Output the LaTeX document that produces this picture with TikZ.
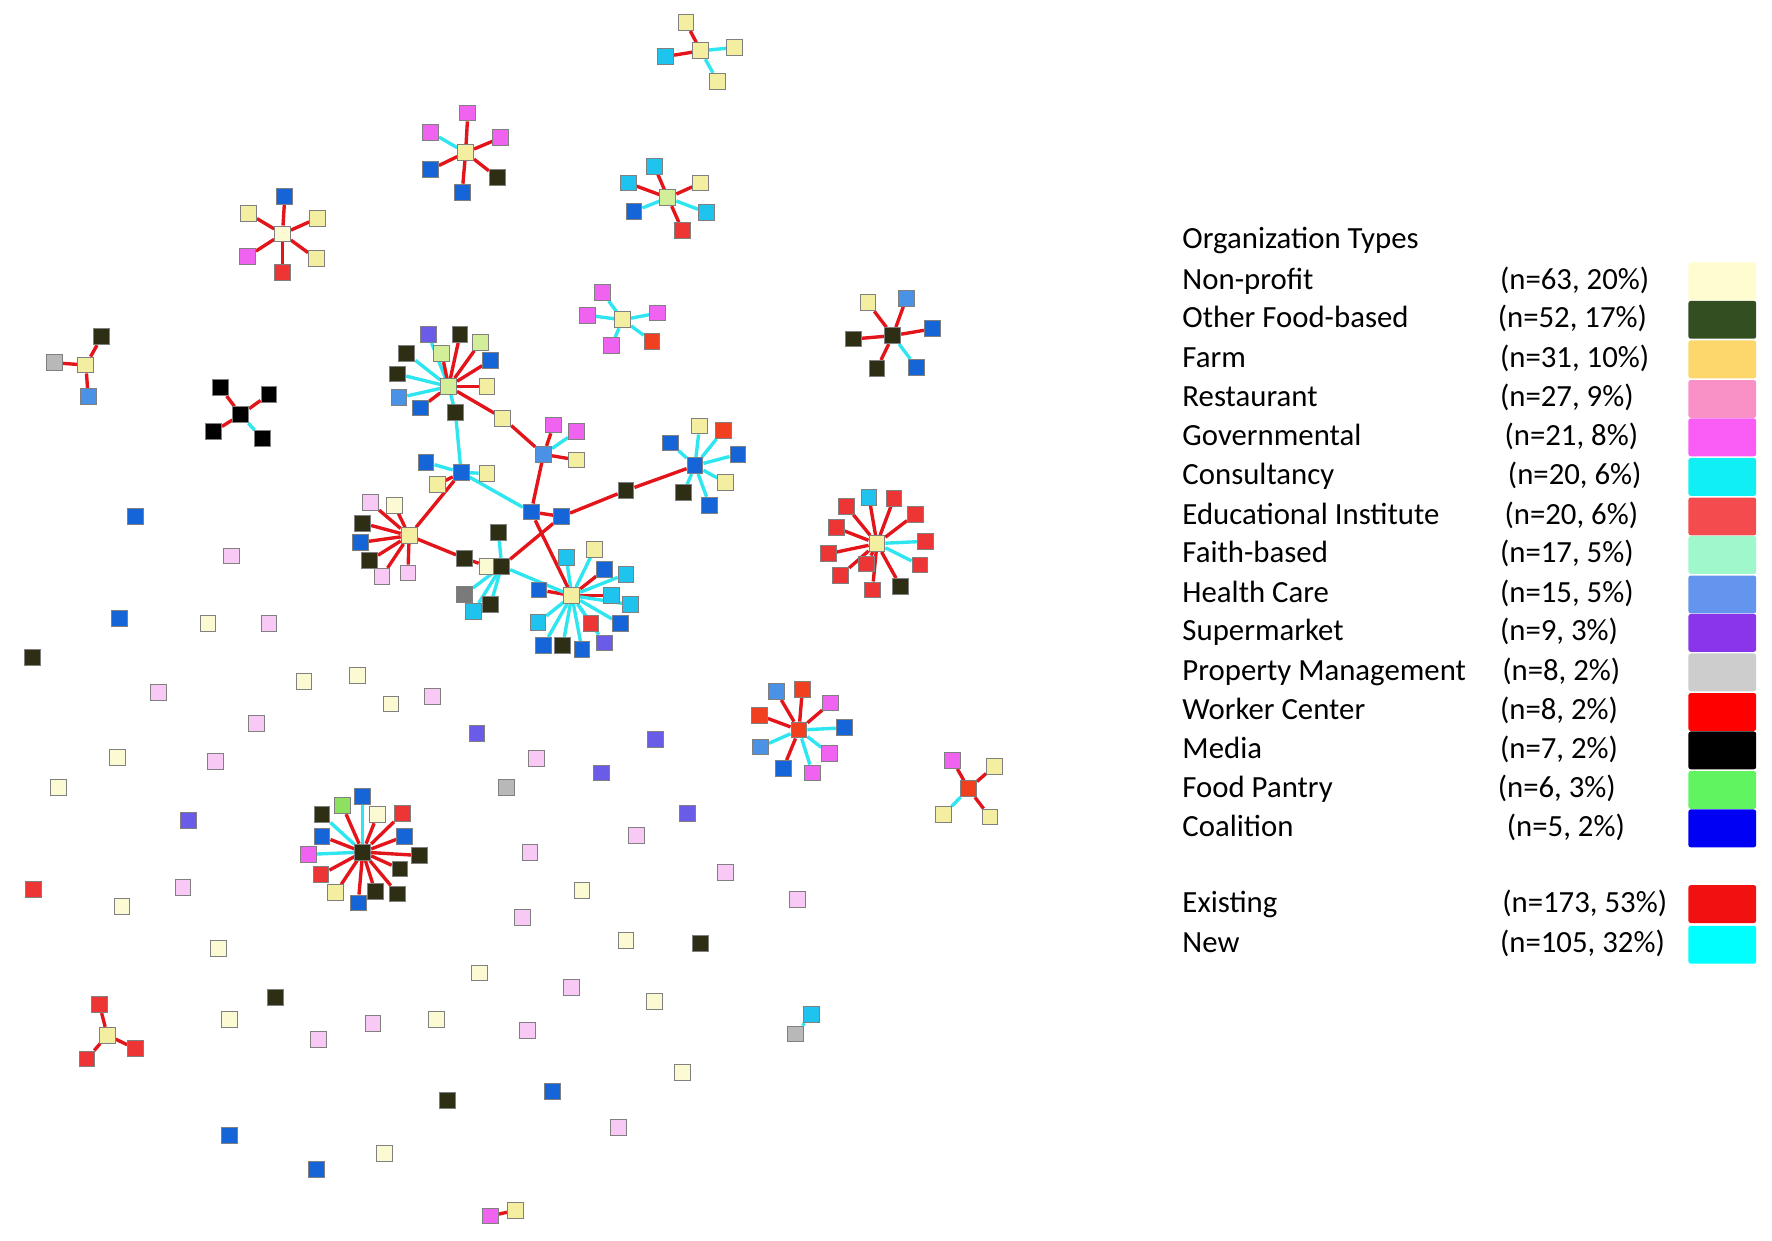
\documentclass[tikz,border=0pt]{standalone}
\usepackage{fontspec}
\setmainfont{Carlito}
\pgfdeclarelayer{bg}
\pgfsetlayers{bg,main}
% node colours
\definecolor{ny}{HTML}{F4EFA0}
\definecolor{npale}{HTML}{FCFAD2}
\definecolor{nd}{HTML}{2E2E14}
\definecolor{nb}{HTML}{1565D8}
\definecolor{nlb}{HTML}{4A92E6}
\definecolor{nc}{HTML}{1EC4EE}
\definecolor{nm}{HTML}{F062F0}
\definecolor{nr}{HTML}{EE3535}
\definecolor{nor}{HTML}{F04020}
\definecolor{np}{HTML}{F9C9F6}
\definecolor{npu}{HTML}{6A5CE8}
\definecolor{ng}{HTML}{B8B8B8}
\definecolor{ngd}{HTML}{7A7A7A}
\definecolor{ngr}{HTML}{8EE060}
\definecolor{nlg}{HTML}{D2EE98}
\definecolor{nk}{HTML}{000000}
% edge colours
\definecolor{eR}{HTML}{E3151A}
\definecolor{eC}{HTML}{2EE6F0}
% legend colours
\definecolor{L1}{HTML}{FFFDD0}
\definecolor{L2}{HTML}{334F22}
\definecolor{L3}{HTML}{FDD66C}
\definecolor{L4}{HTML}{F990C6}
\definecolor{L5}{HTML}{FA5CF6}
\definecolor{L6}{HTML}{10F0F4}
\definecolor{L7}{HTML}{F44B4E}
\definecolor{L8}{HTML}{9EF8CC}
\definecolor{L9}{HTML}{6495EE}
\definecolor{L10}{HTML}{8A35EA}
\definecolor{L11}{HTML}{CDCDCD}
\definecolor{L12}{HTML}{FF0000}
\definecolor{L13}{HTML}{000000}
\definecolor{L14}{HTML}{60F560}
\definecolor{L15}{HTML}{0000F5}
\definecolor{L16}{HTML}{F21111}
\definecolor{L17}{HTML}{00FFFF}
\tikzset{
  sq/.style={rectangle, draw=black!50, line width=0.5pt, minimum size=0.28cm, inner sep=0pt},
  lnk/.style={line width=1.7pt},
  legtxt/.style={anchor=west, inner sep=0pt, font=\fontsize{15.5}{18}\selectfont, text height=11pt, text depth=3pt},
  swatch/.style={rectangle, inner sep=0pt, minimum width=1.2cm, minimum height=0.67cm, rounded corners=1.2pt}
}
\newcommand\hubleaves[2]{%
  \foreach \n/\x/\y/\c/\e in {#2}{%
    \node[sq,fill=\c] (#1\n) at (\x,\y) {};
    \begin{pgfonlayer}{bg}\draw[lnk,draw=\e] (#1) -- (#1\n);\end{pgfonlayer}
  }}
\newcommand\legrow[6]{%
  \node[legtxt] (lab#1) at (1046,#2) {#3};
  \node[legtxt] (num#1) at (#5,#2) {#4};
  \node[swatch,fill=#6] (sw#1) at (1524,#2) {};
}
\begin{document}
\begin{tikzpicture}[x=0.02cm,y=-0.02cm]
\begin{pgfonlayer}{bg}
\fill[white] (0,0) rectangle (1568,1098);
\end{pgfonlayer}
\useasboundingbox (0,0) rectangle (1568,1098);

% cluster A
\node[sq,fill=ny] (A) at (620,45) {};
\hubleaves{A}{1/607/20/ny/eR, 2/650/42/ny/eC, 3/589/50/nc/eR, 4/635/72/ny/eC}
% cluster B
\node[sq,fill=ny] (B) at (412,135) {};
\hubleaves{B}{1/414/100/nm/eR, 2/381/117/nm/eC, 3/443/122/nm/eR, 4/381/150/nb/eR, 5/409/170/nb/eR, 6/440/157/nd/eR}
% cluster C
\node[sq,fill=npale] (C) at (250,207) {};
\hubleaves{C}{1/252/174/nb/eR, 2/220/189/ny/eR, 3/281/193/ny/eR, 4/219/227/nm/eR, 5/250/241/nr/eR, 6/280/229/ny/eR}
% cluster D
\node[sq,fill=nlg] (D) at (591,175) {};
\hubleaves{D}{1/579/147/nc/eR, 2/556/162/nc/eR, 3/620/162/ny/eR, 4/561/187/nb/eC, 5/625/188/nc/eC, 6/604/204/nr/eR}
% cluster E
\node[sq,fill=ny] (E) at (551,283) {};
\hubleaves{E}{1/533/259/nm/eC, 2/520/279/nm/eC, 3/582/277/nm/eC, 4/541/306/nm/eC, 5/577/302/nor/eC}
% cluster F
\node[sq,fill=nd] (F) at (790,297) {};
\hubleaves{F}{1/768/268/ny/eR, 2/802/264/nlb/eR, 3/825/291/nb/eR, 4/755/300/nd/eR, 5/776/326/nd/eR, 6/811/325/nb/eC}
% cluster G
\node[sq,fill=ny] (G) at (76,323) {};
\hubleaves{G}{1/90/298/nd/eR, 2/48/321/ng/eR, 3/78/351/nlb/eR}
% cluster H
\node[sq,fill=nk] (H) at (213,367) {};
\hubleaves{H}{1/195/343/nk/eR, 2/238/349/nk/eR, 3/189/382/nk/eR, 4/232/388/nk/eC}
% cluster I
\node[sq,fill=ny] (I) at (776,481) {};
\hubleaves{I}{1/769/440/nc/eR, 2/791/441/nr/eR, 3/810/455/nr/eR, 4/749/448/nr/eR, 5/740/467/nr/eR, 6/819/479/nr/eC, 7/733/490/nr/eR, 8/814/500/nr/eC, 9/767/499/nr/eR, 10/744/509/nr/eR, 11/772/522/nr/eR, 12/797/519/nd/eR}
% cluster J
\node[sq,fill=nor] (J) at (707,646) {};
\hubleaves{J}{1/687/612/nlb/eR, 2/710/610/nor/eR, 3/735/622/nm/eR, 4/747/644/nb/eC, 5/734/667/nm/eC, 6/719/684/nm/eC, 7/693/680/nb/eR, 8/673/661/nlb/eC, 9/672/633/nor/eR}
% cluster K
\node[sq,fill=nor] (K) at (857,698) {};
\hubleaves{K}{1/843/673/nm/eR, 2/880/678/ny/eR, 3/835/721/ny/eC, 4/876/723/ny/eR}
% cluster L
\node[sq,fill=nd] (L) at (321,754) {};
\hubleaves{L}{1/321/705/nb/eC, 2/303/713/ngr/eR, 3/285/721/nd/eC, 4/334/721/npale/eR, 5/356/720/nr/eR, 6/285/740/nb/eR, 7/358/740/nb/eR, 8/273/756/nm/eC, 9/371/757/nd/eR, 10/354/769/nd/eR, 11/284/774/nr/eR, 12/297/790/ny/eR, 13/332/789/nd/eR, 14/352/791/nd/eR, 15/317/799/nb/eR}
% cluster M
\node[sq,fill=ny] (M) at (95,916) {};
\hubleaves{M}{1/88/889/nr/eR, 2/77/937/nr/eR, 3/120/928/nr/eR}
% pairs
\node[sq,fill=ng] (N1) at (704,915) {};
\node[sq,fill=nc] (N2) at (718,898) {};
\node[sq,fill=nm] (O1) at (434,1076) {};
\node[sq,fill=ny] (O2) at (456,1071) {};
\begin{pgfonlayer}{bg}
\draw[lnk,draw=eC] (N1) -- (N2);
\draw[lnk,draw=eR] (O1) -- (O2);
\end{pgfonlayer}

% central component
\node[sq,fill=nlg] (P1) at (397,342) {};
\hubleaves{P1}{a/379/296/npu/eC, b/407/296/nd/eR, c/425/303/nlg/eR, d/391/313/nlg/eR, e/360/313/nd/eC, f/434/319/nb/eR, g/352/331/nd/eC, h/431/342/ny/eR, i/353/352/nlb/eC, j/372/361/nb/eR, k/403/365/nd/eC, l/445/370/ny/eR}
\node[sq,fill=nlb] (P3) at (481,402) {};
\hubleaves{P3}{a/490/376/nm/eR, b/510/382/nm/eC, c/510/407/ny/eR}
\node[sq,fill=nb] (P2) at (408,418) {};
\hubleaves{P2}{a/377/409/nb/eC, b/431/419/ny/eC, c/387/429/ny/eR}
\node[sq,fill=nb] (P5) at (470,453) {};
\node[sq,fill=nb] (P6) at (497,457) {};
\node[sq,fill=nd] (Q1) at (554,434) {};
\node[sq,fill=nb] (P9) at (615,412) {};
\hubleaves{P9}{a/619/377/ny/eC, b/640/381/nor/eC, c/593/392/nb/eC, d/653/402/nb/eC, e/642/427/ny/eC, f/605/436/nd/eC, g/628/447/nb/eC}
\node[sq,fill=ny] (P4) at (362,474) {};
\hubleaves{P4}{a/328/445/np/eR, b/349/447/npale/eR, c/321/463/nd/eR, d/319/480/nb/eR, e/327/496/nd/eR, f/338/510/np/eR, g/361/507/np/eR}
\node[sq,fill=nd] (S1) at (411,494) {};
\node[sq,fill=npale] (Q) at (431,501) {};
\node[sq,fill=nd] (R) at (444,501) {};
\hubleaves{R}{a/441/471/nd/eC, b/411/526/ngd/eC, c/419/541/nc/eC, d/434/535/nd/eC}
\node[sq,fill=ny] (P8) at (506,527) {};
\hubleaves{P8}{a/501/493/nc/eC, b/526/486/ny/eC, c/535/504/nb/eR, d/554/508/nc/eC, e/477/522/nb/eR, f/541/527/nc/eR, g/558/535/nc/eC, h/476/551/nc/eC, i/523/552/nr/eC, j/549/552/nb/eC, k/481/571/nb/eC, l/498/571/nd/eC, m/515/575/nb/eC, n/535/569/npu/eC}
\begin{pgfonlayer}{bg}
\draw[lnk,draw=eR] (P1l) -- (P3);
\draw[lnk,draw=eC] (P1k) -- (P2);
\draw[lnk,draw=eR] (P2) -- (P4);
\draw[lnk,draw=eC] (P2) -- (P5);
\draw[lnk,draw=eR] (P3) -- (P5);
\draw[lnk,draw=eR] (P5) -- (P6);
\draw[lnk,draw=eR] (P5) -- (P8);
\draw[lnk,draw=eR] (P6) -- (Q1);
\draw[lnk,draw=eR] (Q1) -- (P9);
\draw[lnk,draw=eR] (P6) -- (R);
\draw[lnk,draw=eC] (R) -- (P8);
\draw[lnk,draw=eR] (P4) -- (S1);
\draw[lnk,draw=eR] (S1) -- (Q);
\end{pgfonlayer}

% isolated organisations
\foreach \x/\y/\c [count=\k] in {120/457/nb, 205/492/np, 106/547/nb, 184/552/npale, 238/552/np, 29/582/nd, 140/613/np, 269/603/npale, 316/598/npale, 346/623/npale, 383/616/np, 227/640/np, 104/670/npale, 191/674/np, 52/697/npale, 167/726/npu, 422/649/npu, 475/671/np, 448/697/ng, 580/654/npu, 532/684/npu, 608/720/npu, 563/739/np, 469/754/np, 642/772/np, 515/788/npale, 706/796/np, 462/812/np, 554/832/npale, 620/835/nd, 424/861/npale, 506/874/np, 30/787/nr, 108/802/npale, 162/785/np, 193/839/npale, 244/883/nd, 203/902/npale, 282/920/np, 330/906/np, 386/902/npale, 396/974/nd, 203/1005/nb, 280/1035/nb, 340/1021/npale, 579/886/npale, 467/912/np, 604/949/npale, 489/966/nb, 547/998/np}
  {\node[sq,fill=\c] (iso\k) at (\x,\y) {};}

% legend
\node[legtxt] (legtitle) at (1046,213) {Organization Types};
\legrow{1}{249}{Non-profit}{(n=63, 20\%)}{1327}{L1}
\legrow{2}{283}{Other Food-based}{(n=52, 17\%)}{1325}{L2}
\legrow{3}{318}{Farm}{(n=31, 10\%)}{1327}{L3}
\legrow{4}{353}{Restaurant}{(n=27, 9\%)}{1327}{L4}
\legrow{5}{387}{Governmental}{(n=21, 8\%)}{1331}{L5}
\legrow{6}{422}{Consultancy}{(n=20, 6\%)}{1334}{L6}
\legrow{7}{457}{Educational Institute}{(n=20, 6\%)}{1331}{L7}
\legrow{8}{491}{Faith-based}{(n=17, 5\%)}{1327}{L8}
\legrow{9}{526}{Health Care}{(n=15, 5\%)}{1327}{L9}
\legrow{10}{560}{Supermarket}{(n=9, 3\%)}{1327}{L10}
\legrow{11}{595}{Property Management}{(n=8, 2\%)}{1329}{L11}
\legrow{12}{630}{Worker Center}{(n=8, 2\%)}{1327}{L12}
\legrow{13}{664}{Media}{(n=7, 2\%)}{1327}{L13}
\legrow{14}{699}{Food Pantry}{(n=6, 3\%)}{1325}{L14}
\legrow{15}{733}{Coalition}{(n=5, 2\%)}{1333}{L15}
\legrow{16}{800}{Existing}{(n=173, 53\%)}{1329}{L16}
\legrow{17}{836}{New}{(n=105, 32\%)}{1327}{L17}
\end{tikzpicture}
\end{document}
